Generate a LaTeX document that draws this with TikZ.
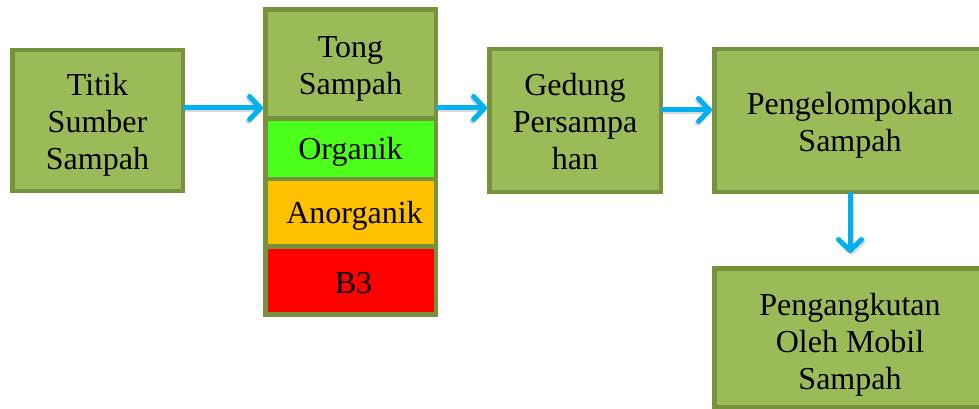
\documentclass[tikz,border=0pt]{standalone}
\usepackage{fontspec}
\setmainfont{Liberation Serif}
\newfontfamily\tnr{Liberation Serif}
\usetikzlibrary{arrows.meta}
\definecolor{olivefill}{HTML}{9BBB59}
\definecolor{oliveline}{HTML}{76923C}
\definecolor{orggreen}{HTML}{4CFF1A}
\definecolor{anorgorange}{HTML}{FFC000}
\definecolor{bthree}{HTML}{FF0000}
\definecolor{arrowblue}{HTML}{00B0F0}
\tikzset{
  box/.style={draw=oliveline, fill=olivefill, line width=4.5pt, rectangle, inner sep=0pt},
  txt/.style={inner sep=0pt, align=center, font=\tnr\fontsize{32}{37}\selectfont},
  flow/.style={draw=arrowblue, line width=5pt, line cap=round,
    -{Straight Barb[length=11pt,width=23pt,round]}},
  flowshadow/.style={draw=black, opacity=0.15, line width=5pt, line cap=round,
    -{Straight Barb[length=11pt,width=23pt,round]}}
}
\begin{document}
\begin{tikzpicture}[x=1pt,y=-1pt]
\useasboundingbox (0,0) rectangle (979,409);
\clip (0,0) rectangle (979,409);
\fill[white] (0,0) rectangle (979,409);

\node[box, minimum width=170.5pt, minimum height=140.5pt] (src) at (97.5,120.5) {};
\node[txt] (srct) at ([yshift=-4.5pt]src.center) {Titik\\Sumber\\Sampah};

\node[box, minimum width=170.5pt, minimum height=109.25pt] (tong) at (350.5,63.9) {};
\node[txt] (tongt) at ([yshift=-5pt]tong.center) {Tong\\Sampah};
\node[box, fill=orggreen, minimum width=170.5pt, minimum height=60.5pt] (org) at (350.5,148.75) {};
\node[txt] (orgt) at ([yshift=-3pt]org.center) {Organik};
\node[box, fill=anorgorange, minimum width=170.5pt, minimum height=67.5pt] (anorg) at (350.5,212.75) {};
\node[txt] (anorgt) at ([xshift=4pt,yshift=-3pt]anorg.center) {Anorganik};
\node[box, fill=bthree, minimum width=170.5pt, minimum height=68.25pt] (b3) at (350.5,280.6) {};
\node[txt] (b3t) at ([xshift=3pt,yshift=-2pt]b3.center) {B3};

\node[box, minimum width=171.5pt, minimum height=142.5pt] (ged) at (575,120.5) {};
\node[txt] (gedt) at ([yshift=-1pt]ged.center) {Gedung\\Persampa\\han};

\node[box, minimum width=271.5pt, minimum height=142.5pt] (kel) at (850,120.5) {};
\node[txt] (kelt) at ([yshift=-5pt]kel.center) {Pengelompokan\\Sampah};

\node[box, minimum width=271.5pt, minimum height=138.5pt] (angkut) at (850,337.5) {};
\node[txt] (angkutt) at ([yshift=-7pt]angkut.center) {Pengangkutan\\Oleh Mobil\\Sampah};

% shadows
\draw[flowshadow] ([xshift=1.5pt,yshift=-2pt]src.east |- 0,108) -- ([xshift=-1pt,yshift=-2pt]tong.west |- 0,108);
\draw[flowshadow] ([xshift=1.5pt,yshift=-2pt]tong.east |- 0,108) -- ([xshift=-1pt,yshift=-2pt]ged.west |- 0,108);
\draw[flowshadow] ([xshift=1.5pt,yshift=-2pt]ged.east |- 0,110) -- ([xshift=-1pt,yshift=-2pt]kel.west |- 0,110);
\draw[flowshadow, shorten >=13pt] ([xshift=1.5pt,yshift=-2pt]kel.south) -- ([xshift=1.5pt,yshift=-2pt]angkut.north);

% arrows
\draw[flow] (src.east |- 0,108) -- (tong.west |- 0,108);
\draw[flow] (tong.east |- 0,108) -- (ged.west |- 0,108);
\draw[flow] (ged.east |- 0,110) -- (kel.west |- 0,110);
\draw[flow, shorten >=13pt] (kel.south) -- (angkut.north);
\end{tikzpicture}
\end{document}
